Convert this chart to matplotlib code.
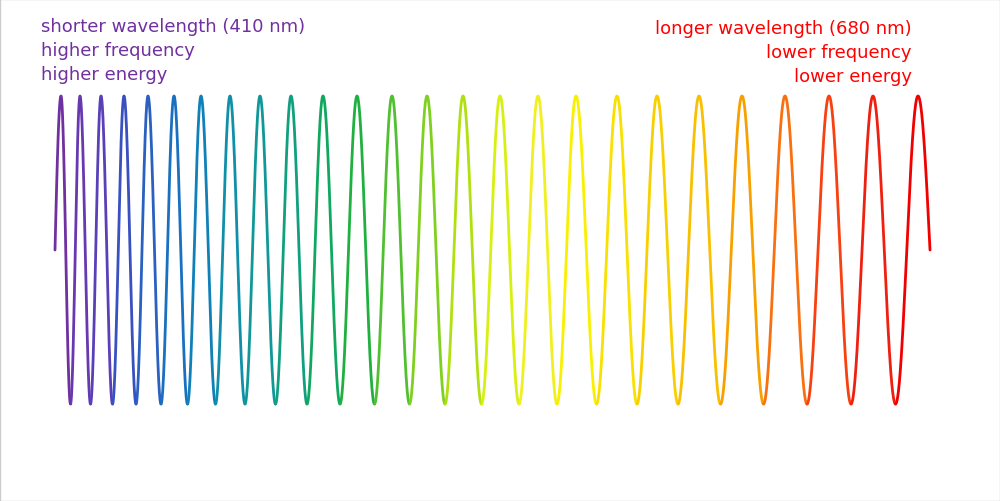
import numpy as np
import matplotlib
matplotlib.use("Agg")
import matplotlib.pyplot as plt

# peak x-positions of each cycle (pixels), start/end of wave
peak_x = [61, 80, 101, 124, 148, 174, 201, 230, 260, 291, 323, 357, 392, 427,
          463, 500, 538, 576, 617, 657, 699, 742, 785, 829, 873, 918]
start_x, end_x = 55, 930
colors = ["#7030a0", "#6838b0", "#5a40b8", "#3a4fc0", "#2a60c0", "#1a70c0",
          "#1080b8", "#1090a8", "#109898", "#10a080", "#10a860", "#20b040",
          "#50c030", "#80d020", "#b0e010", "#d8f010", "#f0f020", "#f8f000",
          "#f8e000", "#f8d000", "#f8c000", "#f8a000", "#f87010", "#f84010",
          "#f02010", "#f00000"]
left_text = ["shorter wavelength (410 nm)", "higher frequency", "higher energy"]
right_text = ["longer wavelength (680 nm)", "lower frequency", "lower energy"]

fig = plt.figure(figsize=(10, 5.02), dpi=100)
ax = fig.add_axes([0, 0, 1, 1])
ax.set_xlim(0, 1000)
ax.set_ylim(502, 0)
ax.axis("off")
fig.patches.append(plt.Rectangle((0, 0), 1, 1, transform=fig.transFigure,
                                 fill=False, ec="#cccccc", lw=1))

mid, amp = 251, 154
n = len(peak_x)
kx = [start_x] + peak_x + [end_x]
kp = [0] + [2*np.pi*k + np.pi/2 for k in range(n)] + [2*np.pi*(n-1) + np.pi]
x = np.linspace(start_x, end_x, 6000)
ph = np.interp(x, kx, kp)
y = mid - amp*np.sin(ph)
idx = np.clip(np.floor((ph + np.pi/2) / (2*np.pi)).astype(int), 0, n-1)
for i in range(n):
    m = idx == i
    mm = m.copy()
    w = np.where(m)[0]
    if len(w) and w[-1] + 1 < len(x):
        mm[w[-1] + 1] = True
    ax.plot(x[mm], y[mm], color=colors[i], lw=2, solid_capstyle="round")

for j, t in enumerate(left_text):
    ax.text(41, 27 + j*24, t, color="#7030a0", fontsize=13, va="center", ha="left")
for j, t in enumerate(right_text):
    ax.text(912, 29 + j*24, t, color="#ff0000", fontsize=13, va="center", ha="right")

fig.savefig("out.png", dpi=100)
